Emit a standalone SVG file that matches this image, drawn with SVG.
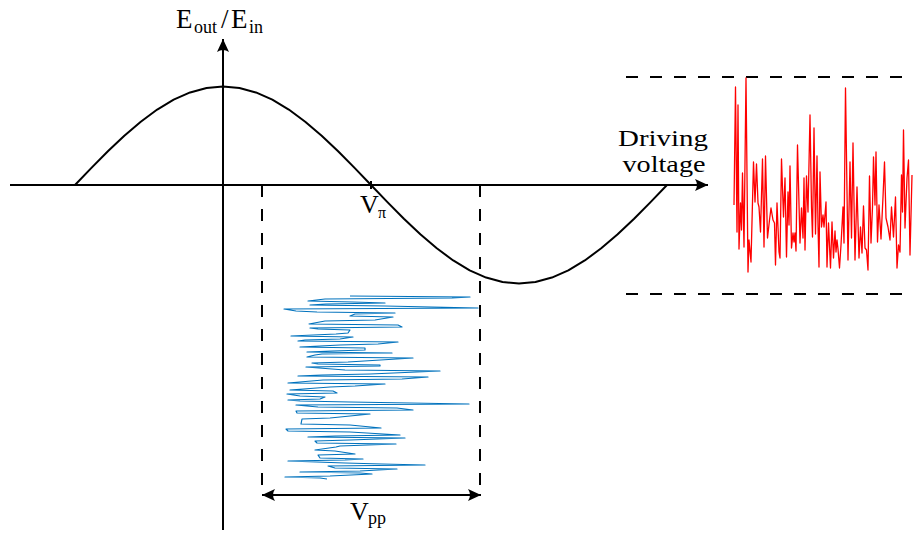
<svg xmlns="http://www.w3.org/2000/svg" width="913" height="535" viewBox="0 0 913 535">
<style>
.ax{stroke:#000;stroke-width:2;fill:none}
.dash{stroke:#000;stroke-width:2;fill:none;stroke-dasharray:12 12}
text{font-family:'Liberation Serif','Times New Roman',serif;fill:#000}
</style>
<defs>
<marker id="ah" markerUnits="userSpaceOnUse" markerWidth="16" markerHeight="14" refX="1" refY="0" viewBox="-13 -7 16 14" orient="auto-start-reverse">
<path d="M1,0 L-12,-6 Q-8,0 -12,6 Z" fill="#000"/>
</marker>
</defs>
<g id="connectors">
<line id="x-axis" class="ax" x1="10" y1="185" x2="708" y2="185" marker-end="url(#ah)"/>
<line id="y-axis" class="ax" x1="223" y1="530" x2="223" y2="39" marker-end="url(#ah)"/>
<polyline id="curve" class="ax" stroke-linejoin="round" points="75,185 91.44,167.9 107.89,151.31 124.33,135.75 140.78,121.68 157.22,109.55 173.67,99.7 190.11,92.44 206.56,88 223,86.5 239.44,88 255.89,92.44 272.33,99.7 288.78,109.55 305.22,121.68 321.67,135.75 338.11,151.31 354.56,167.9 371,185 387.44,202.1 403.89,218.69 420.33,234.25 436.78,248.32 453.22,260.45 469.67,270.3 486.11,277.56 502.56,282 519,283.5 535.44,282 551.89,277.56 568.33,270.3 584.78,260.45 601.22,248.32 617.67,234.25 634.11,218.69 650.56,202.1 667,185"/>
<line id="vpi-tick" class="ax" x1="371" y1="181" x2="371" y2="189"/>
<line class="dash" x1="626" y1="77" x2="913" y2="77"/>
<line class="dash" x1="626" y1="294" x2="913" y2="294"/>
<line class="dash" x1="262" y1="185" x2="262" y2="488"/>
<line class="dash" x1="480" y1="185" x2="480" y2="488"/>
<line id="vpp-arrow" class="ax" x1="262" y1="495" x2="481" y2="495" marker-start="url(#ah)" marker-end="url(#ah)"/>
</g>
<g id="red-noise">
<polyline fill="none" stroke="#ff0000" stroke-width="1.3" stroke-linejoin="round" points="734,205 735.5,87 737,232 738,105 739,249 740.5,203 741.5,230 742.5,173 744,247 746,78 748,272 749,240 751,262 753.5,162 755,202 756.5,164 758,203 759,207 760.5,232 762.5,159 764,247 765.5,156 767.5,238 769.5,220 771,208 773,220 774.5,223 775.5,265 777,203 779,252 780,258 781.5,159 783.5,217 785,178 786.5,257 788,192 789,225 790,166 791.5,248 793,233 794,242 795,233 796,251 797.5,145 800,243 801.5,208 803,238 804,178 805,250 806.5,176 808,212 810,115 811.5,207 812.5,237 814,128 815.5,234 817,156 818,225 819,267 820,172 821.5,227 823,215 824,227 826,202 827,267 828.5,223 830.5,268 832,222 833.5,258 835,231 836,252 837,240 838,249 839.5,268 841,245 843,207 844,243 845.5,88 848,260 850,162 851.5,238 853,143 855,260 857,187 859,258 860.5,227 862,253 863.5,206 865,248 866.5,250 868,270 869.5,176 871,243 872.5,207 873.5,157 875,205 876,152 877.5,242 879,205 881,239 883,197 884.5,162 886,218 888,227 890,240 891.5,207 893.5,237 895.5,197 897,268 898.5,245 900,252 901.5,175 902.5,212 903.5,130 905,228 907,178 908.5,160 910,255 912,175"/>
</g>
<g id="blue-noise">
<polyline fill="none" stroke="#0072bd" stroke-width="1.2" stroke-linejoin="round" points="350,296 470,297 452,298 325,299 308,301 353,302 385,303 326,304 310,305 385,306 478,308 284,309 296,311 317,312 395,313 355,314 350,316 393,317 375,320 325,321 309,324 398,325 402,327 310,328 318,329 350,330 348,333 336,334 291,336 353,337 340,339 305,340 298,341 398,342 378,344 340,345 300,347 365,348 365,350 332,351 307,352 392,353 322,354 315,355 307,357 413,358 348,362 312,363 318,364 380,365 380,366 306,367 345,370 440,371 370,374 322,375 298,376 428,377 402,379 323,380 288,383 385,384 355,386 330,387 290,390 333,391 337,393 287,394 300,396 325,397 320,399 288,400 300,401 350,402 469,404 296,405 318,407 397,408 413,410 296,411 297,413 370,414 330,418 302,419 301,424 350,425 381,428 286,429 288,431 350,432 400,435 335,436 308,437 405,438 350,440 315,441 317,443 396,444 340,446 336,447 315,450 335,451 355,454 318,455 320,458 363,459 345,460 288,461 345,463 382,464 425,465 328,466 335,468 397,469 360,471 300,472 360,473 372,474 330,476 285,477 320,478 327,479"/>
</g>
<g id="label-eout-ein">
<text font-family="'Liberation Serif', serif" font-size="27"><tspan x="176" y="28">E</tspan><tspan x="194" y="33" font-size="18">out</tspan><tspan x="221" y="28">/</tspan><tspan x="231" y="28">E</tspan><tspan x="249" y="33" font-size="18">in</tspan></text>
</g>
<g id="label-vpi">
<text font-family="'Liberation Serif', serif" font-size="26"><tspan x="360" y="213">V</tspan><tspan x="378" y="218" font-size="16">π</tspan></text>
</g>
<g id="label-driving">
<text font-family="'Liberation Serif', serif" font-size="24" x="663" y="146" text-anchor="middle" textLength="90" lengthAdjust="spacingAndGlyphs">Driving</text>
<text font-family="'Liberation Serif', serif" font-size="24" x="664" y="172" text-anchor="middle" textLength="83" lengthAdjust="spacingAndGlyphs">voltage</text>
</g>
<g id="label-vpp">
<text font-family="'Liberation Serif', serif" font-size="26"><tspan x="350" y="520">V</tspan><tspan x="368" y="524" font-size="18">pp</tspan></text>
</g>
</svg>
